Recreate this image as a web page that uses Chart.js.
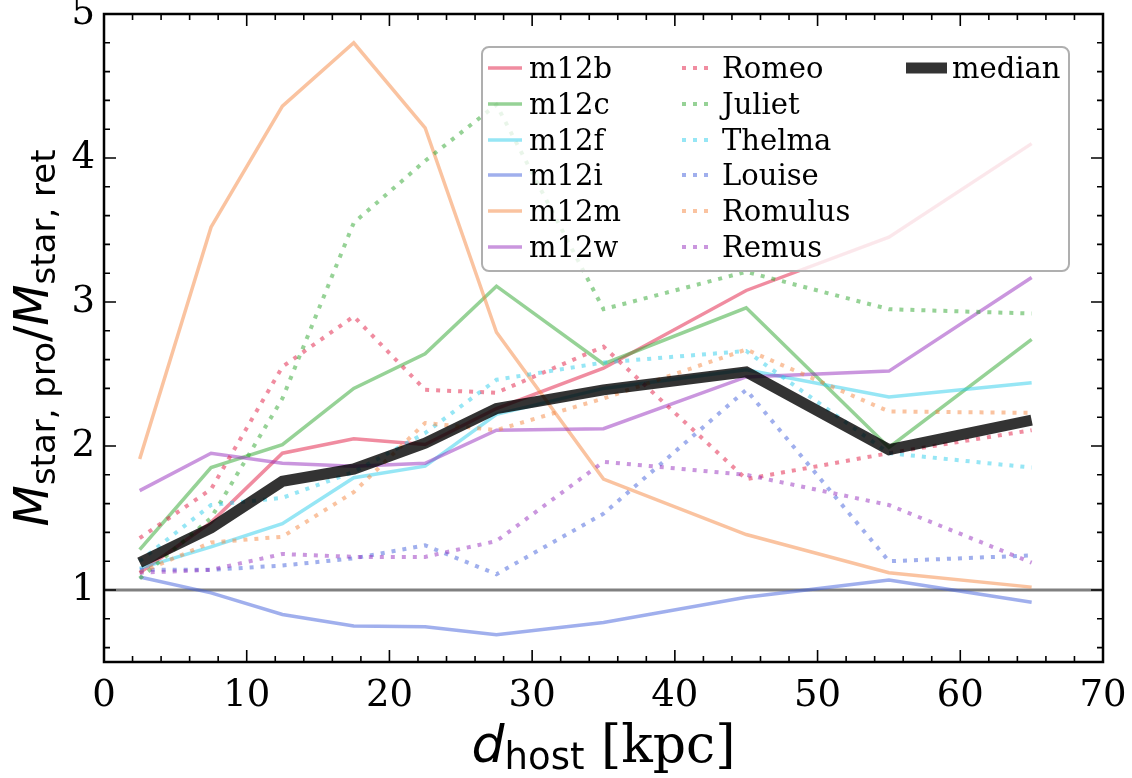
<!DOCTYPE html>
<html>
<head>
  <meta charset="UTF-8">
  <title>M_star,pro / M_star,ret vs d_host</title>
  <script src="https://cdn.jsdelivr.net/npm/chart.js"></script>
  <style>
    html, body { margin: 0; padding: 0; background: #fff; }
    #wrap { width: 1132px; height: 778px; }
  </style>
</head>
<body>
  <div id="wrap"><canvas id="ratioChart" width="1132" height="778"></canvas></div>

  <script>
    // distance bins (kpc)
    const xBins = [2.5, 7.5, 12.5, 17.5, 22.5, 27.5, 35, 45, 55, 65];

    // isolated hosts (solid)
    const m12b = [1.12, 1.47, 1.95, 2.05, 2.01, 2.26, 2.54, 3.08, 3.45, 4.10];
    const m12c = [1.28, 1.85, 2.01, 2.40, 2.64, 3.11, 2.57, 2.96, 1.99, 2.74];
    const m12f = [1.15, 1.30, 1.46, 1.78, 1.86, 2.22, 2.40, 2.53, 2.34, 2.44];
    const m12i = [1.09, 0.98, 0.83, 0.75, 0.745, 0.69, 0.775, 0.95, 1.07, 0.915];
    const m12m = [1.91, 3.52, 4.36, 4.80, 4.21, 2.79, 1.77, 1.385, 1.12, 1.02];
    const m12w = [1.69, 1.95, 1.88, 1.86, 1.88, 2.11, 2.12, 2.48, 2.52, 3.17];

    // LG-like pairs (dotted)
    const romeo   = [1.36, 1.70, 2.55, 2.90, 2.39, 2.37, 2.69, 1.77, 1.95, 2.11];
    const juliet  = [1.08, 1.50, 2.33, 3.55, 3.98, 4.37, 2.95, 3.21, 2.95, 2.92];
    const thelma  = [1.20, 1.59, 1.64, 1.82, 2.09, 2.46, 2.58, 2.66, 1.95, 1.85];
    const louise  = [1.14, 1.14, 1.17, 1.22, 1.31, 1.11, 1.53, 2.39, 1.20, 1.24];
    const romulus = [1.12, 1.33, 1.37, 1.68, 2.16, 2.11, 2.33, 2.67, 2.24, 2.23];
    const remus   = [1.12, 1.14, 1.25, 1.23, 1.23, 1.34, 1.89, 1.80, 1.59, 1.19];

    const median  = [1.19, 1.43, 1.755, 1.84, 2.02, 2.26, 2.39, 2.515, 1.975, 2.18];

    // reference line at ratio = 1
    const refX = [0, 70];
    const refY = 1;

    const xTickValues = [0, 10, 20, 30, 40, 50, 60, 70];
    const yTickValues = [1, 2, 3, 4, 5];

    const hostNames = ['m12b', 'm12c', 'm12f', 'm12i', 'm12m', 'm12w'];
    const pairNames = ['Romeo', 'Juliet', 'Thelma', 'Louise', 'Romulus', 'Remus'];
    const hostData = [m12b, m12c, m12f, m12i, m12m, m12w];
    const pairData = [romeo, juliet, thelma, louise, romulus, remus];
    const colors = [
      'rgba(225,25,65,0.5)',
      'rgba(45,165,45,0.5)',
      'rgba(45,205,235,0.5)',
      'rgba(65,95,220,0.5)',
      'rgba(245,135,65,0.5)',
      'rgba(150,45,190,0.5)'
    ];

    const pts = arr => arr.map((v, i) => ({ x: xBins[i], y: v }));

    // matplotlib draws later lines on top -> lower "order" on top in Chart.js
    const datasets = [];
    datasets.push({
      label: 'ref', data: refX.map(x => ({ x: x, y: refY })),
      borderColor: 'rgb(128,128,128)', borderWidth: 3, order: 20
    });
    hostNames.forEach((n, i) => datasets.push({
      label: n, data: pts(hostData[i]), borderColor: colors[i],
      borderWidth: 3.5, order: 19 - i
    }));
    pairNames.forEach((n, i) => datasets.push({
      label: n, data: pts(pairData[i]), borderColor: colors[i],
      borderWidth: 4, borderDash: [4, 7], borderCapStyle: 'butt', order: 13 - i
    }));
    datasets.push({
      label: 'median', data: pts(median), borderColor: 'rgba(0,0,0,0.8)',
      borderWidth: 11, order: 0
    });

    const serif = '"DejaVu Serif", serif';
    const sans = '"DejaVu Sans", sans-serif';

    function drawParts(ctx, parts, cx, baseY) {
      let total = 0;
      parts.forEach(p => { ctx.font = p.f; p.w = ctx.measureText(p.t).width; total += p.w; });
      let x = cx - total / 2;
      parts.forEach(p => {
        ctx.font = p.f;
        ctx.fillText(p.t, x, baseY + (p.dy || 0));
        x += p.w;
      });
    }

    function drawLegend(ctx, chart) {
      const bx = 482, by = 47, bw = 587, bh = 224;
      ctx.beginPath();
      ctx.roundRect(bx, by, bw, bh, 7);
      ctx.fillStyle = 'rgba(255,255,255,0.8)';
      ctx.fill();
      ctx.lineWidth = 2;
      ctx.strokeStyle = 'rgba(175,175,175,1)';
      ctx.stroke();

      const rows = [68, 104, 140, 175, 211, 247];
      const cols = [
        { names: hostNames, x0: 488, x1: 522, tx: 529 },
        { names: pairNames, x0: 682, x1: 709, tx: 722 },
        { names: ['median'], x0: 906, x1: 947, tx: 952 }
      ];
      ctx.font = '29px ' + serif;
      ctx.textBaseline = 'alphabetic';
      ctx.textAlign = 'left';
      cols.forEach(c => {
        c.names.forEach((n, r) => {
          const ds = chart.data.datasets.find(d => d.label === n);
          ctx.save();
          ctx.strokeStyle = ds.borderColor;
          ctx.lineWidth = ds.borderWidth;
          ctx.lineCap = 'butt';
          ctx.setLineDash(ds.borderDash || []);
          ctx.beginPath();
          ctx.moveTo(c.x0, rows[r]);
          ctx.lineTo(c.x1, rows[r]);
          ctx.stroke();
          ctx.restore();
          ctx.fillStyle = '#000';
          ctx.fillText(n, c.tx, rows[r] + 10);
        });
      });
    }

    const decorPlugin = {
      id: 'decor',
      afterDatasetsDraw(chart) {
        const ctx = chart.ctx, a = chart.chartArea;
        const xs = chart.scales.x, ys = chart.scales.y;
        ctx.save();
        drawLegend(ctx, chart);

        // frame
        ctx.strokeStyle = '#000';
        ctx.lineWidth = 2.5;
        ctx.strokeRect(a.left, a.top, a.right - a.left, a.bottom - a.top);

        // inward ticks on all sides
        ctx.lineWidth = 1.6;
        ctx.beginPath();
        for (let v = 0; v <= 70; v += 2) {
          const px = xs.getPixelForValue(v);
          const len = v % 10 === 0 ? 12 : 6;
          ctx.moveTo(px, a.bottom); ctx.lineTo(px, a.bottom - len);
          ctx.moveTo(px, a.top); ctx.lineTo(px, a.top + len);
        }
        for (let k = 3; k <= 25; k++) {
          const v = k * 0.2;
          const py = ys.getPixelForValue(v);
          const len = k % 5 === 0 ? 12 : 6;
          ctx.moveTo(a.left, py); ctx.lineTo(a.left + len, py);
          ctx.moveTo(a.right, py); ctx.lineTo(a.right - len, py);
        }
        ctx.stroke();

        // axis titles
        ctx.fillStyle = '#000';
        ctx.textAlign = 'left';
        ctx.textBaseline = 'alphabetic';
        drawParts(ctx, [
          { t: 'd', f: 'italic 52px ' + sans },
          { t: 'host', f: '37px ' + sans, dy: 7 },
          { t: ' [kpc]', f: '52px ' + serif }
        ], (a.left + a.right) / 2, 762);

        ctx.save();
        ctx.translate(48, (a.top + a.bottom) / 2);
        ctx.rotate(-Math.PI / 2);
        drawParts(ctx, [
          { t: 'M', f: 'italic 48px ' + sans },
          { t: 'star, pro', f: '34px ' + sans, dy: 7 },
          { t: '/', f: '48px ' + sans },
          { t: 'M', f: 'italic 48px ' + sans },
          { t: 'star, ret', f: '34px ' + sans, dy: 7 }
        ], 0, 0);
        ctx.restore();
        ctx.restore();
      }
    };

    const ctx = document.getElementById('ratioChart').getContext('2d');
    new Chart(ctx, {
      type: 'line',
      data: { datasets: datasets },
      options: {
        responsive: false,
        animation: false,
        events: [],
        layout: { padding: { left: 0, right: 29, top: 14, bottom: 0 } },
        elements: { point: { radius: 0 }, line: { tension: 0, borderJoinStyle: 'miter' } },
        plugins: { legend: { display: false }, tooltip: { enabled: false } },
        scales: {
          x: {
            type: 'linear', min: 0, max: 70,
            grid: { display: false, drawTicks: false },
            border: { display: false },
            ticks: { color: '#000', font: { family: serif, size: 37 }, padding: 12, maxRotation: 0 },
            afterBuildTicks: s => { s.ticks = xTickValues.map(v => ({ value: v })); },
            afterFit: s => { s.height = 116; s.paddingLeft = 0; s.paddingRight = 0; }
          },
          y: {
            type: 'linear', min: 0.5, max: 5,
            grid: { display: false, drawTicks: false },
            border: { display: false },
            ticks: { color: '#000', font: { family: serif, size: 37 }, padding: 9 },
            afterBuildTicks: s => { s.ticks = yTickValues.map(v => ({ value: v })); },
            afterFit: s => { s.width = 104; s.paddingTop = 0; s.paddingBottom = 0; }
          }
        }
      },
      plugins: [decorPlugin]
    });
  </script>
</body>
</html>
